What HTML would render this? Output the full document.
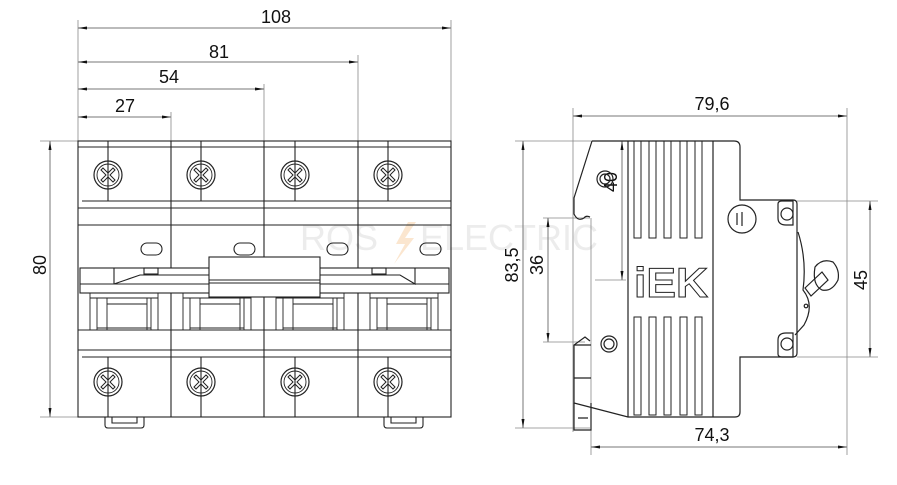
<!DOCTYPE html>
<html><head><meta charset="utf-8"><style>
html,body{margin:0;padding:0;background:#fff;}
svg{display:block;}
text{font-family:"Liberation Sans",Arial,sans-serif;fill:#111;}
</style></head><body>
<svg width="897" height="485" viewBox="0 0 897 485" xmlns="http://www.w3.org/2000/svg">
<defs>
<marker id="a" markerWidth="9" markerHeight="6" refX="9" refY="3" orient="auto-start-reverse" markerUnits="userSpaceOnUse"><path d="M0,1.5 L9,3 L0,4.5 Z" fill="#111"/></marker>
<g id="scr"><circle r="14" fill="none" stroke="#222" stroke-width="1.2"/><circle r="11" fill="none" stroke="#222" stroke-width="0.9"/>
<path d="M-7,-5 L-2,0 L-7,5 L-5,7 L0,2 L5,7 L7,5 L2,0 L7,-5 L5,-7 L0,-2 L-5,-7 Z" fill="none" stroke="#222" stroke-width="1"/></g>
</defs>
<text x="300" y="250" font-size="36" style="fill:#ececec">ROS</text>
<path d="M408,222 L396,244 L405,244 L394,264 L414,238 L405,238 L416,222Z" fill="#fbe6cf"/>
<text x="420" y="250" font-size="36" style="fill:#ececec">ELECTRIC</text>

<g stroke="#888" stroke-width="0.8" fill="none">
<line x1="78" y1="20" x2="78" y2="141"/><line x1="451" y1="20" x2="451" y2="141"/>
<line x1="358" y1="55" x2="358" y2="141"/><line x1="264" y1="84" x2="264" y2="141"/><line x1="171" y1="112" x2="171" y2="141"/>
<line x1="40" y1="141" x2="78" y2="141"/><line x1="40" y1="417" x2="78" y2="417"/>
</g>
<g stroke="#777" stroke-width="1" fill="none">
<line x1="78" y1="28" x2="451" y2="28" marker-start="url(#a)" marker-end="url(#a)"/>
<line x1="78" y1="62" x2="358" y2="62" marker-start="url(#a)" marker-end="url(#a)"/>
<line x1="78" y1="89" x2="264" y2="89" marker-start="url(#a)" marker-end="url(#a)"/>
<line x1="78" y1="117" x2="171" y2="117" marker-start="url(#a)" marker-end="url(#a)"/>
<line x1="50" y1="141" x2="50" y2="417" marker-start="url(#a)" marker-end="url(#a)"/>
</g>
<text x="276" y="23" font-size="18" text-anchor="middle">108</text>
<text x="219" y="58" font-size="18" text-anchor="middle">81</text>
<text x="169" y="83" font-size="18" text-anchor="middle">54</text>
<text x="125" y="112" font-size="18" text-anchor="middle">27</text>
<text transform="translate(46,265) rotate(-90)" font-size="18" text-anchor="middle">80</text>

<g stroke="#222" stroke-width="1.1" fill="none">
<rect x="78" y="141" width="373" height="276"/>
<line x1="78" y1="147" x2="451" y2="147"/>
<line x1="82" y1="201" x2="451" y2="201"/>
<line x1="78" y1="208" x2="451" y2="208"/>
<line x1="78" y1="225" x2="451" y2="225"/>
<line x1="78" y1="330" x2="451" y2="330"/>
<line x1="78" y1="350" x2="451" y2="350"/>
<line x1="82" y1="357" x2="451" y2="357"/>
<line x1="171" y1="141" x2="171" y2="417"/><line x1="264" y1="141" x2="264" y2="417"/><line x1="358" y1="141" x2="358" y2="417"/>
<line x1="108" y1="141" x2="108" y2="201"/><line x1="201" y1="141" x2="201" y2="201"/><line x1="295" y1="141" x2="295" y2="201"/><line x1="388" y1="141" x2="388" y2="201"/>
<line x1="108" y1="357" x2="108" y2="417"/><line x1="201" y1="357" x2="201" y2="417"/><line x1="295" y1="357" x2="295" y2="417"/><line x1="388" y1="357" x2="388" y2="417"/>
<rect x="141" y="243" width="21" height="12" rx="6"/><rect x="234" y="243" width="21" height="12" rx="6"/><rect x="327" y="243" width="21" height="12" rx="6"/><rect x="420" y="243" width="21" height="12" rx="6"/>
<g id="mech" stroke-width="0.9"><path d="M90,293 V330 M97,298 V330 M90,298 H158 M158,293 V330 M151,298 V330 M107,298 V304 H147 V298 M107,304 V330 M147,304 V330 M97,328 H151"/></g>
<use href="#mech" x="93"/><use href="#mech" x="186"/><use href="#mech" x="280"/>
<rect x="80" y="268" width="369" height="25" fill="#fff"/>
<line x1="80" y1="284" x2="449" y2="284"/>
<path d="M114,268 L114,284 M114,284 L140,275 L210,275 M320,275 L400,275 L415,284 L415,268"/>
<rect x="144" y="268" width="14" height="6"/><rect x="372" y="268" width="14" height="6"/>
<rect x="209" y="257" width="111" height="40" fill="#fff"/>
<line x1="209" y1="280" x2="320" y2="280"/><line x1="209" y1="283" x2="320" y2="283"/>
<path d="M105,417 L105,425 Q105,428 108,428 L141,428 Q144,428 144,425 L144,417 M112,417 L112,423 L137,423 L137,417"/>
<path d="M384,417 L384,425 Q384,428 387,428 L420,428 Q423,428 423,425 L423,417 M391,417 L391,423 L416,423 L416,417"/>
</g>
<use href="#scr" x="108" y="175"/><use href="#scr" x="201" y="175"/><use href="#scr" x="295" y="175"/><use href="#scr" x="388" y="175"/>
<use href="#scr" x="108" y="382"/><use href="#scr" x="201" y="382"/><use href="#scr" x="295" y="382"/><use href="#scr" x="388" y="382"/>

<g stroke="#888" stroke-width="0.8" fill="none">
<line x1="573" y1="108" x2="573" y2="432"/><line x1="847" y1="108" x2="847" y2="455"/>
<line x1="591" y1="218" x2="591" y2="455"/>
<line x1="515" y1="141" x2="600" y2="141"/><line x1="515" y1="428" x2="590" y2="428"/>
<line x1="543" y1="218" x2="590" y2="218"/><line x1="543" y1="342" x2="585" y2="342"/>
<line x1="595" y1="280" x2="626" y2="280"/>
<line x1="797" y1="201" x2="878" y2="201"/><line x1="797" y1="357" x2="878" y2="357"/>
</g>
<g stroke="#777" stroke-width="1" fill="none">
<line x1="573" y1="116" x2="847" y2="116" marker-start="url(#a)" marker-end="url(#a)"/>
<line x1="591" y1="447" x2="847" y2="447" marker-start="url(#a)" marker-end="url(#a)"/>
<line x1="523" y1="141" x2="523" y2="428" marker-start="url(#a)" marker-end="url(#a)"/>
<line x1="548" y1="218" x2="548" y2="342" marker-start="url(#a)" marker-end="url(#a)"/>
<line x1="622" y1="141" x2="622" y2="280" marker-start="url(#a)" marker-end="url(#a)"/>
<line x1="870" y1="201" x2="870" y2="357" marker-start="url(#a)" marker-end="url(#a)"/>
</g>
<text x="712" y="110" font-size="18" text-anchor="middle">79,6</text>
<text x="712" y="441" font-size="18" text-anchor="middle">74,3</text>
<text transform="translate(518,265) rotate(-90)" font-size="18" text-anchor="middle">83,5</text>
<text transform="translate(543,265) rotate(-90)" font-size="18" text-anchor="middle">36</text>
<text transform="translate(617,182) rotate(-90)" font-size="18" text-anchor="middle">40</text>
<text transform="translate(867,280) rotate(-90)" font-size="18" text-anchor="middle">45</text>

<g stroke="#222" stroke-width="1.2" fill="none">
<path d="M592,141 L734,141 Q740,141 740,147 L740,200 L793,200 Q797,200 797,204 L797,353 Q797,357 793,357 L740,357 L740,412 Q740,417 735,417 L628,417 L574,403 L574,345 L585,337 L590,341 M574,345 L591,345 M592,141 L574,198 L574,214 Q578,222 584,218 Q586,215 590,217"/>
<path d="M574,378 L591,378 M574,403 L574,430 L591,430 L591,403 M578,418 L588,418"/>
<line x1="628" y1="141" x2="628" y2="417"/><line x1="713" y1="141" x2="713" y2="417"/>
<g stroke-width="1">
<rect x="634" y="141" width="7" height="97"/><rect x="649" y="141" width="7" height="97"/><rect x="664" y="141" width="7" height="97"/><rect x="680" y="141" width="7" height="97"/><rect x="695" y="141" width="7" height="97"/>
<rect x="634" y="317" width="7" height="98"/><rect x="649" y="317" width="7" height="98"/><rect x="664" y="317" width="7" height="98"/><rect x="680" y="317" width="7" height="98"/><rect x="695" y="317" width="7" height="98"/>
</g>
<circle cx="605" cy="179" r="8"/><circle cx="605" cy="179" r="5"/>
<circle cx="609" cy="344" r="8"/><circle cx="609" cy="344" r="5"/>
<circle cx="742" cy="219" r="14"/><line x1="737" y1="213" x2="737" y2="225"/><line x1="742" y1="212" x2="742" y2="226"/>
<path d="M778,204 Q778,201 782,201 L793,201 L793,225 L786,225 Q778,225 778,218Z"/><circle cx="787" cy="214" r="6"/>
<path d="M778,354 Q778,357 782,357 L793,357 L793,333 L786,333 Q778,333 778,340Z"/><circle cx="787" cy="344" r="6"/>
<path d="M798,232 Q807,260 803,290 Q815,305 804,325 L795,335"/>
<path d="M805,288 L822,272 L828,280 L811,296 Z"/>
<path d="M815,267 Q822,258 833,262 Q840,270 838,280 Q832,292 822,290 Q812,285 815,267Z"/>
<circle cx="806" cy="306" r="1.8"/>
</g>
<text x="634" y="297" font-size="42" font-weight="bold" style="fill:#fff;stroke:#222;stroke-width:1" textLength="74" lengthAdjust="spacingAndGlyphs">iEK</text>
</svg>
</body></html>
